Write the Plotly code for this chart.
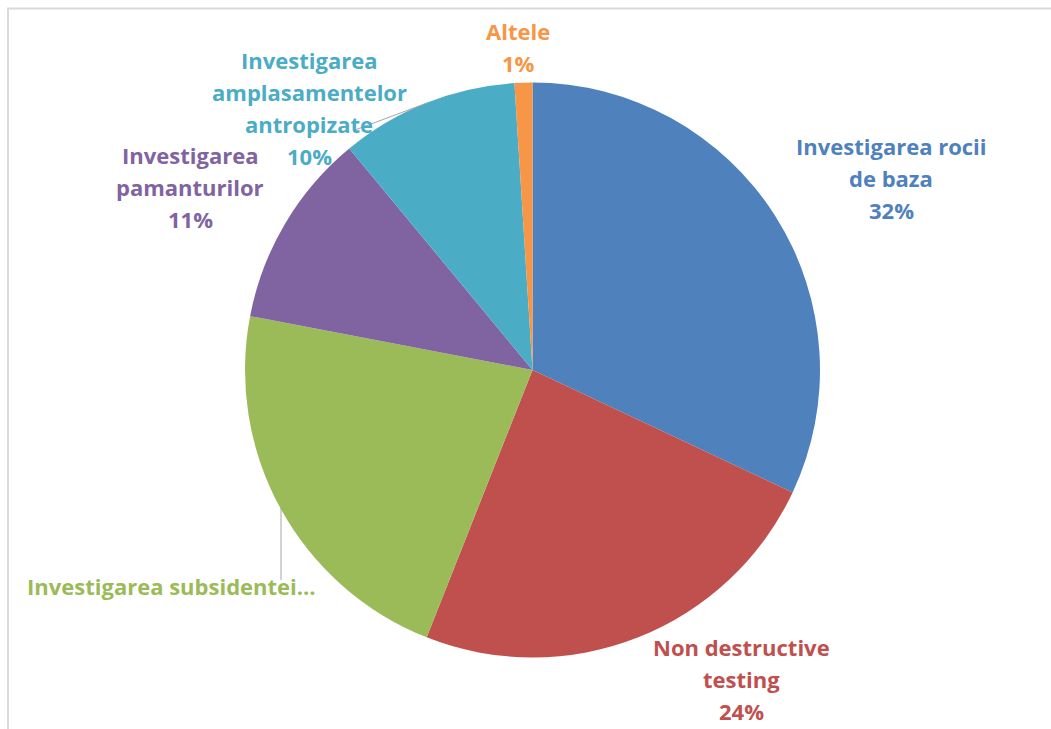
import plotly.graph_objects as go

W, H = 1051, 729

categories = [
    "Investigarea rocii de baza",
    "Non destructive testing",
    "Investigarea subsidentei…",
    "Investigarea pamanturilor",
    "Investigarea amplasamentelor antropizate",
    "Altele",
]
values = [32, 24, 22, 11, 10, 1]
colors = ["#4F81BD", "#C0504D", "#9BBB59", "#8064A2", "#4BACC6", "#F79646"]

# label text lines (the percentage line is added from values)
label_lines = [
    ["Investigarea rocii", "de baza"],
    ["Non destructive", "testing"],
    ["Investigarea subsidentei…"],
    ["Investigarea", "pamanturilor"],
    ["Investigarea", "amplasamentelor", "antropizate"],
    ["Altele"],
]
# label block positions in pixels: (center x, center y of first line)
label_pos = [(891, 146), (741, 647), (171, 586), (190, 155), (309, 60), (518, 31)]
show_pct = [True, True, False, True, True, True]
LINE_STEP = 32


def px(x):
    return x / W


def py(y):
    return 1 - y / H


cx, cy, r = 532.5, 370, 287.5

fig = go.Figure(
    go.Pie(
        labels=categories,
        values=values,
        sort=False,
        direction="clockwise",
        rotation=0,
        textinfo="none",
        hoverinfo="label+percent",
        marker=dict(colors=colors, line=dict(width=0)),
        domain=dict(x=[px(cx - r), px(cx + r)], y=[py(cy + r), py(cy - r)]),
        showlegend=False,
    )
)

annotations = []
for lines, (lx, ly), col, v, sp in zip(label_lines, label_pos, colors, values, show_pct):
    all_lines = list(lines) + ([f"{v}%"] if sp else [])
    for i, t in enumerate(all_lines):
        annotations.append(
            dict(
                x=px(lx), y=py(ly + i * LINE_STEP), xref="paper", yref="paper",
                text=t, showarrow=False, xanchor="center", yanchor="middle",
                font=dict(family="Open Sans", size=22, color=col, weight="bold"),
            )
        )

shapes = [
    dict(type="rect", xref="paper", yref="paper",
         x0=px(8), x1=px(W + 20), y0=py(H + 20), y1=py(8.5),
         line=dict(color="#D9D9D9", width=2), fillcolor="rgba(0,0,0,0)", layer="below"),
    dict(type="line", xref="paper", yref="paper",
         x0=px(355), y0=py(130), x1=px(427), y1=py(103),
         line=dict(color="#A6A6A6", width=1)),
    dict(type="line", xref="paper", yref="paper",
         x0=px(281), y0=py(508), x1=px(281), y1=py(580),
         line=dict(color="#A6A6A6", width=1)),
]

fig.update_layout(
    width=W, height=H,
    margin=dict(l=0, r=0, t=0, b=0),
    paper_bgcolor="white", plot_bgcolor="white",
    annotations=annotations,
    shapes=shapes,
)

fig.write_html("out.html")
